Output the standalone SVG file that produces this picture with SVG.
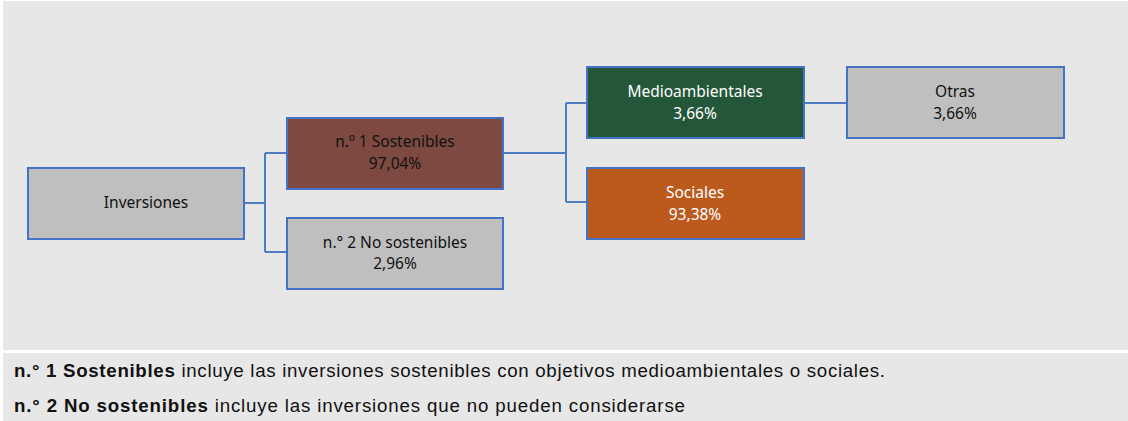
<svg xmlns="http://www.w3.org/2000/svg" width="1128" height="421" viewBox="0 0 1128 421">
<style>
.node{stroke:#4472c4;stroke-width:2}
.t{font-family:"Noto Sans","Open Sans",sans-serif;font-size:15.5px;text-anchor:middle}
.dark{fill:#111}
.light{fill:#fff}
.conn{fill:none;stroke:#4f7fc0;stroke-width:2}
.foot{font-family:"Liberation Sans",Arial,sans-serif;font-size:18.7px;fill:#111}
</style>
<rect x="0" y="0" width="1128" height="421" fill="#ffffff"/>
<rect x="3" y="1" width="1125" height="349" fill="#e7e7e7"/>
<rect x="3" y="353" width="1125" height="68" fill="#e7e7e7"/>
<g id="connectors">
<path class="conn" d="M244,203 H265 M265,153 V252 M265,153 H287 M265,252 H287"/>
<path class="conn" d="M503,153 H566 M566,103 V202 M566,103 H587 M566,202 H587"/>
<path class="conn" d="M804,103 H847"/>
</g>
<g id="inversiones">
<rect class="node" x="28" y="168" width="216" height="71" fill="#bfbfbf"/>
<text class="t dark" x="146" y="208">Inversiones</text>
</g>
<g id="sostenibles">
<rect class="node" x="287" y="118" width="216" height="71" fill="#7d4941"/>
<text class="t dark" x="395" y="147">n.º 1 Sostenibles</text>
<text class="t dark" x="395" y="169">97,04%</text>
</g>
<g id="no-sostenibles">
<rect class="node" x="287" y="218" width="216" height="71" fill="#bfbfbf"/>
<text class="t dark" x="395" y="248">n.° 2 No sostenibles</text>
<text class="t dark" x="395" y="269">2,96%</text>
</g>
<g id="medioambientales">
<rect class="node" x="587" y="67" width="217" height="71" fill="#245639"/>
<text class="t light" x="695" y="97">Medioambientales</text>
<text class="t light" x="695" y="119">3,66%</text>
</g>
<g id="sociales">
<rect class="node" x="587" y="168" width="217" height="71" fill="#bc5a1e"/>
<text class="t light" x="695" y="198">Sociales</text>
<text class="t light" x="695" y="220">93,38%</text>
</g>
<g id="otras">
<rect class="node" x="847" y="67" width="217" height="71" fill="#bfbfbf"/>
<text class="t dark" x="955" y="97">Otras</text>
<text class="t dark" x="955" y="119">3,66%</text>
</g>
<text class="foot" x="14" y="377" textLength="871" lengthAdjust="spacing"><tspan font-weight="bold">n.° 1 Sostenibles</tspan> incluye las inversiones sostenibles con objetivos medioambientales o sociales.</text>
<text class="foot" x="14" y="412" textLength="671" lengthAdjust="spacing"><tspan font-weight="bold">n.° 2 No sostenibles</tspan> incluye las inversiones que no pueden considerarse</text>
</svg>
